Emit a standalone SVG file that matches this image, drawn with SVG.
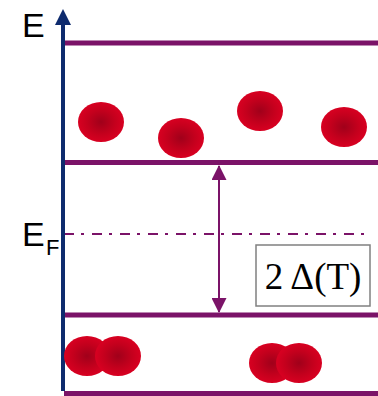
<svg xmlns="http://www.w3.org/2000/svg" width="378" height="396" viewBox="0 0 378 396">
<style>
.lvl{stroke:#7b1368;stroke-width:5;fill:none}
.lbl{font-family:"Liberation Sans",Arial,sans-serif;fill:#000}
.p{fill:url(#rg)}
</style>
<defs>
<radialGradient id="rg" cx="0.5" cy="0.5" r="0.5">
<stop offset="0" stop-color="#a0001a"/>
<stop offset="0.6" stop-color="#c4001d"/>
<stop offset="1" stop-color="#d80021"/>
</radialGradient>
<marker id="ah" markerWidth="16" markerHeight="15" refX="15" refY="8" orient="auto-start-reverse" markerUnits="userSpaceOnUse" viewBox="0 0 16 16">
<path d="M0,0 L16,8 L0,16 Z" fill="#7b1368"/>
</marker>
</defs>
<g id="levels">
<line class="lvl" x1="64" y1="43" x2="378" y2="43"/>
<line class="lvl" x1="64" y1="162.5" x2="378" y2="162.5"/>
<line class="lvl" x1="64" y1="315" x2="378" y2="315"/>
<line class="lvl" x1="64" y1="393.5" x2="378" y2="393.5"/>
</g>
<g id="fermi">
<line x1="64" y1="234" x2="368" y2="234" stroke="#7b1368" stroke-width="2" stroke-dasharray="10 7 3 8"/>
</g>
<g id="axis">
<line x1="63" y1="22" x2="63" y2="391" stroke="#0e2b6e" stroke-width="4"/>
<path d="M55,25 L63,9 L71,25 Z" fill="#0e2b6e"/>
</g>
<g id="connectors">
<line x1="219" y1="166" x2="219" y2="312" stroke="#7b1368" stroke-width="2" marker-start="url(#ah)" marker-end="url(#ah)"/>
</g>
<g id="particles-top">
<ellipse class="p" cx="101" cy="122" rx="23" ry="20"/>
<ellipse class="p" cx="181" cy="138" rx="23" ry="20"/>
<ellipse class="p" cx="260" cy="111" rx="23" ry="20"/>
<ellipse class="p" cx="344" cy="127" rx="23" ry="20"/>
</g>
<g id="particles-bottom">
<ellipse class="p" cx="87" cy="356" rx="23" ry="20"/>
<ellipse class="p" cx="118" cy="356" rx="23" ry="20"/>
<ellipse class="p" cx="272" cy="363" rx="23" ry="20"/>
<ellipse class="p" cx="299" cy="363" rx="23" ry="20"/>
</g>
<g id="label-E">
<text class="lbl" x="22" y="37" font-size="34">E</text>
</g>
<g id="label-EF">
<text class="lbl" x="22" y="246" font-size="34">E</text>
<text class="lbl" x="46" y="255" font-size="22">F</text>
</g>
<g id="gap-label">
<rect x="256" y="245" width="114" height="61" fill="#fff" stroke="#808080" stroke-width="1.5"/>
<text x="313" y="289" font-family="'Liberation Serif','Times New Roman',serif" font-size="37" text-anchor="middle" fill="#000">2 Δ(T)</text>
</g>
</svg>
